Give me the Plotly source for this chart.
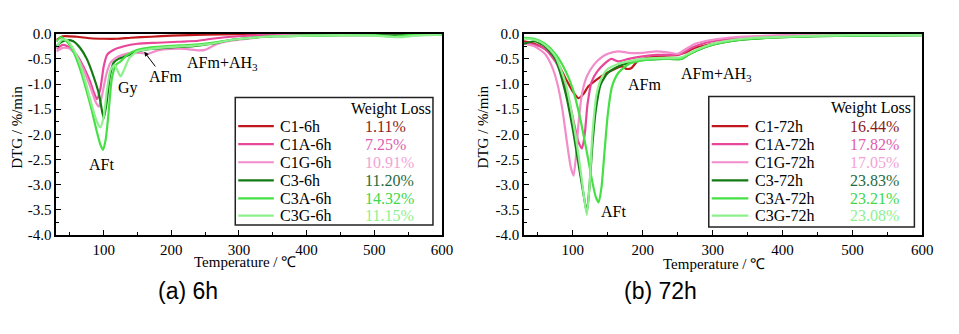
import plotly.graph_objects as go

# ---------------- data ----------------
# (a) 6h
T_C1_6h = [30, 40, 60, 80, 100, 120, 140, 170, 200, 250, 300, 350, 400, 500, 600]
V_C1_6h = [-0.12, -0.05, -0.06, -0.09, -0.10, -0.10, -0.08, -0.06, -0.04, -0.02, -0.01, 0, 0, 0, 0]

T_C1A_6h = [30, 40, 50, 60, 70, 80, 85, 90, 95, 100, 105, 115, 130, 150, 180, 210, 240, 260, 280, 300, 330, 360, 400, 500, 600]
V_C1A_6h = [-0.30, -0.22, -0.28, -0.42, -0.65, -0.95, -1.15, -1.30, -1.10, -0.65, -0.42, -0.32, -0.25, -0.20, -0.18, -0.16, -0.14, -0.10, -0.07, -0.05, -0.03, -0.02, -0.01, 0, 0]

T_C1G_6h = [30, 40, 50, 60, 70, 80, 88, 93, 98, 104, 110, 118, 128, 140, 155, 165, 180, 200, 220, 240, 250, 265, 280, 300, 330, 360, 400, 500, 600]
V_C1G_6h = [-0.35, -0.28, -0.30, -0.45, -0.70, -1.05, -1.35, -1.45, -1.20, -0.80, -0.58, -0.48, -0.42, -0.38, -0.38, -0.40, -0.33, -0.30, -0.30, -0.33, -0.32, -0.22, -0.16, -0.12, -0.07, -0.04, -0.02, -0.01, 0]

T_C3_6h = [30, 38, 45, 55, 65, 75, 85, 93, 100, 104, 109, 115, 122, 132, 150, 170, 200, 230, 260, 290, 320, 350, 400, 450, 500, 550, 600]
V_C3_6h = [-0.25, -0.16, -0.13, -0.15, -0.28, -0.50, -0.85, -1.20, -1.68, -1.40, -0.85, -0.57, -0.50, -0.45, -0.35, -0.30, -0.27, -0.25, -0.20, -0.12, -0.08, -0.05, -0.04, -0.03, -0.03, -0.03, -0.02]

T_C3A_6h = [30, 36, 45, 55, 65, 75, 82, 89, 95, 99, 103, 107, 112, 118, 125, 135, 150, 170, 200, 230, 260, 290, 320, 350, 400, 450, 500, 530, 550, 600]
V_C3A_6h = [-0.16, -0.07, -0.15, -0.35, -0.70, -1.15, -1.50, -1.90, -2.20, -2.31, -2.10, -1.60, -0.90, -0.62, -0.55, -0.42, -0.32, -0.27, -0.24, -0.22, -0.18, -0.12, -0.08, -0.05, -0.04, -0.03, -0.03, -0.06, -0.03, -0.02]

T_C3G_6h = [30, 38, 45, 55, 65, 75, 83, 90, 95, 100, 105, 110, 116, 121, 125, 130, 138, 150, 170, 200, 230, 260, 290, 320, 350, 400, 450, 500, 540, 560, 600]
V_C3G_6h = [-0.28, -0.12, -0.12, -0.30, -0.60, -1.05, -1.45, -1.75, -1.86, -1.65, -1.10, -0.72, -0.62, -0.75, -0.85, -0.72, -0.48, -0.35, -0.30, -0.26, -0.24, -0.20, -0.12, -0.08, -0.05, -0.04, -0.03, -0.04, -0.07, -0.04, -0.02]

# (b) 72h
T_C1_72h = [30, 45, 60, 75, 90, 100, 108, 115, 122, 135, 146, 160, 170, 177, 184, 192, 200, 220, 250, 260, 275, 300, 330, 360, 400, 450, 500, 600]
V_C1_72h = [-0.15, -0.20, -0.30, -0.50, -0.90, -1.15, -1.28, -1.20, -1.05, -0.90, -0.80, -0.70, -0.65, -0.70, -0.68, -0.55, -0.50, -0.45, -0.42, -0.38, -0.28, -0.20, -0.13, -0.09, -0.06, -0.03, -0.02, -0.01]

T_C1A_72h = [30, 45, 60, 75, 85, 95, 102, 108, 113, 117, 121, 127, 135, 145, 155, 165, 180, 200, 220, 245, 255, 270, 290, 320, 350, 400, 450, 500, 600]
V_C1A_72h = [-0.18, -0.22, -0.30, -0.55, -0.85, -1.35, -1.80, -2.15, -2.28, -2.00, -1.40, -0.95, -0.75, -0.60, -0.50, -0.55, -0.50, -0.45, -0.42, -0.42, -0.40, -0.28, -0.18, -0.11, -0.07, -0.04, -0.02, -0.01, 0]

T_C1G_72h = [30, 45, 60, 70, 78, 85, 92, 97, 101, 104, 108, 113, 120, 130, 140, 150, 165, 180, 200, 220, 240, 250, 260, 275, 300, 330, 360, 400, 500, 600]
V_C1G_72h = [-0.20, -0.25, -0.40, -0.65, -1.00, -1.50, -2.20, -2.65, -2.82, -2.50, -1.80, -1.20, -0.85, -0.62, -0.48, -0.40, -0.35, -0.38, -0.38, -0.35, -0.38, -0.40, -0.32, -0.20, -0.12, -0.07, -0.05, -0.03, -0.01, 0]

T_C3_72h = [30, 45, 60, 75, 90, 100, 110, 116, 120, 124, 128, 133, 140, 150, 165, 180, 200, 230, 255, 265, 280, 300, 330, 360, 400, 450, 500, 600]
V_C3_72h = [-0.20, -0.15, -0.25, -0.50, -1.20, -1.90, -2.75, -3.25, -3.55, -3.00, -2.20, -1.50, -1.00, -0.78, -0.65, -0.58, -0.52, -0.50, -0.50, -0.42, -0.32, -0.22, -0.14, -0.10, -0.07, -0.05, -0.04, -0.03]

T_C3A_72h = [30, 45, 60, 75, 90, 100, 110, 120, 128, 133, 137, 141, 145, 150, 156, 165, 180, 200, 230, 255, 265, 280, 300, 330, 360, 400, 450, 500, 600]
V_C3A_72h = [-0.08, -0.10, -0.20, -0.40, -0.75, -1.10, -1.65, -2.35, -2.95, -3.25, -3.35, -3.05, -2.40, -1.60, -1.05, -0.78, -0.60, -0.53, -0.50, -0.50, -0.42, -0.32, -0.22, -0.14, -0.10, -0.07, -0.05, -0.04, -0.03]

T_C3G_72h = [30, 45, 60, 75, 90, 100, 110, 116, 120, 124, 128, 134, 142, 150, 165, 180, 200, 230, 255, 265, 280, 300, 330, 360, 400, 450, 500, 600]
V_C3G_72h = [-0.10, -0.12, -0.22, -0.45, -1.00, -1.70, -2.60, -3.25, -3.60, -3.00, -2.00, -1.20, -0.85, -0.70, -0.60, -0.55, -0.50, -0.48, -0.47, -0.40, -0.30, -0.20, -0.12, -0.08, -0.06, -0.04, -0.03, -0.03]

names_6h = ["C1-6h", "C1A-6h", "C1G-6h", "C3-6h", "C3A-6h", "C3G-6h"]
names_72h = ["C1-72h", "C1A-72h", "C1G-72h", "C3-72h", "C3A-72h", "C3G-72h"]
loss_6h = ["1.11%", "7.25%", "10.91%", "11.20%", "14.32%", "11.15%"]
loss_72h = ["16.44%", "17.82%", "17.05%", "23.83%", "23.21%", "23.08%"]

line_colors = ["#c0181c", "#e8479a", "#f28ccb", "#137a13", "#45e045", "#8cf08c"]
text_colors = ["#8b1a1a", "#e05cad", "#f4a3d6", "#1f6b3f", "#3fd84a", "#8ff08f"]

x_ticks = [100, 200, 300, 400, 500, 600]
y_ticks = [0.0, -0.5, -1.0, -1.5, -2.0, -2.5, -3.0, -3.5, -4.0]
y_tick_text = ["0.0", "-0.5", "-1.0", "-1.5", "-2.0", "-2.5", "-3.0", "-3.5", "-4.0"]

series_6h = [(T_C1_6h, V_C1_6h), (T_C1A_6h, V_C1A_6h), (T_C1G_6h, V_C1G_6h),
             (T_C3_6h, V_C3_6h), (T_C3A_6h, V_C3A_6h), (T_C3G_6h, V_C3G_6h)]
series_72h = [(T_C1_72h, V_C1_72h), (T_C1A_72h, V_C1A_72h), (T_C1G_72h, V_C1G_72h),
              (T_C3_72h, V_C3_72h), (T_C3A_72h, V_C3A_72h), (T_C3G_72h, V_C3G_72h)]

# ---------------- figure ----------------
W, H = 959, 334
SERIF = "Liberation Serif"

def px(x):
    return x / W

def py(y):
    return 1 - y / H

fig = go.Figure()

for i, (t, v) in enumerate(series_6h):
    fig.add_trace(go.Scatter(x=t, y=v, mode="lines", name=names_6h[i],
                             line=dict(color=line_colors[i], width=2.2, shape="spline", smoothing=0.6),
                             xaxis="x", yaxis="y", showlegend=False))
for i, (t, v) in enumerate(series_72h):
    fig.add_trace(go.Scatter(x=t, y=v, mode="lines", name=names_72h[i],
                             line=dict(color=line_colors[i], width=2.2, shape="spline", smoothing=0.6),
                             xaxis="x2", yaxis="y2", showlegend=False))

ydom = [py(238.5), py(27)]
axis_common = dict(showline=True, linecolor="black", linewidth=1.5, mirror=True,
                   ticks="inside", ticklen=5, tickwidth=1, tickcolor="black",
                   showgrid=False, zeroline=False,
                   tickfont=dict(family=SERIF, size=15, color="black"))

fig.update_layout(
    width=W, height=H,
    margin=dict(l=0, r=0, t=0, b=0),
    paper_bgcolor="white", plot_bgcolor="white",
    xaxis=dict(domain=[px(57), px(447)], range=[30, 600], tickvals=x_ticks,
               minor=dict(dtick=50, tick0=0, ticks="inside", ticklen=3, tickcolor="black"),
               anchor="y", **axis_common),
    yaxis=dict(domain=ydom, range=[-4, 0], tickvals=y_ticks, ticktext=y_tick_text,
               minor=dict(dtick=0.25, tick0=0, ticks="inside", ticklen=3, tickcolor="black"),
               anchor="x", **axis_common),
    xaxis2=dict(domain=[px(530), px(933)], range=[30, 600], tickvals=x_ticks,
                minor=dict(dtick=50, tick0=0, ticks="inside", ticklen=3, tickcolor="black"),
                anchor="y2", **axis_common),
    yaxis2=dict(domain=ydom, range=[-4, 0], tickvals=y_ticks, ticktext=y_tick_text,
                minor=dict(dtick=0.25, tick0=0, ticks="inside", ticklen=3, tickcolor="black"),
                anchor="x2", **axis_common),
)

annotations = []
shapes = []

def pap(x, y, text, size, color="black", xanchor="center", family=SERIF, angle=0):
    return dict(x=px(x), y=py(y), xref="paper", yref="paper", text=text, showarrow=False,
                xanchor=xanchor, yanchor="middle", textangle=angle,
                font=dict(family=family, size=size, color=color))

# axis titles
annotations.append(pap(248, 267, "Temperature / ℃", 15))
annotations.append(pap(722, 269, "Temperature / ℃", 15))
annotations.append(pap(17, 125, "DTG / %/min", 15, angle=-90))
annotations.append(pap(489, 125, "DTG / %/min", 15, angle=-90))

# subtitles
annotations.append(pap(190, 297, "(a) 6h", 23, family="Liberation Sans"))
annotations.append(pap(668, 297, "(b) 72h", 23, family="Liberation Sans"))

# peak labels
lab_font = dict(family=SERIF, size=16, color="black")
def dlab(x, y, text, xr, yr):
    return dict(x=x, y=y, xref=xr, yref=yr, text=text, showarrow=False,
                xanchor="center", yanchor="middle", font=lab_font)

annotations += [
    dlab(97, -2.6, "AFt", "x", "y"),
    dlab(136, -1.08, "Gy", "x", "y"),
    dlab(192, -0.86, "AFm", "x", "y"),
    dict(x=160, y=-0.36, xref="x", yref="y", ax=178, ay=-0.68, axref="x", ayref="y",
         text="", showarrow=True, arrowhead=2, arrowsize=0.9, arrowwidth=1, arrowcolor="black"),
    dlab(276, -0.6, "AFm+AH<sub>3</sub>", "x", "y"),
    dlab(158, -3.53, "AFt", "x2", "y2"),
    dlab(203, -1.0, "AFm", "x2", "y2"),
    dlab(306, -0.82, "AFm+AH<sub>3</sub>", "x2", "y2"),
]

# legends (drawn as boxes with sample lines and text)
leg_font = 16
for box, l0, l1, lx, wx, hx, names, losses in [
        ((238, 94, 438, 228), 241, 277, 281, 367, 396, names_6h, loss_6h),
        ((717, 93, 925, 230), 720, 757, 762, 858, 881, names_72h, loss_72h)]:
    shapes.append(dict(type="rect", xref="paper", yref="paper",
                       x0=px(box[0]), y0=py(box[1]), x1=px(box[2]), y1=py(box[3]),
                       line=dict(color="#222", width=1.5), fillcolor="white", layer="above"))
    annotations.append(pap(hx, box[1] + 12, "Weight Loss", leg_font))
    rows = [124, 143, 162, 181, 200, 218]
    for i in range(6):
        yy = rows[i]
        shapes.append(dict(type="line", xref="paper", yref="paper",
                           x0=px(l0), x1=px(l1), y0=py(yy), y1=py(yy),
                           line=dict(color=line_colors[i], width=2.2), layer="above"))
        annotations.append(pap(lx, yy, names[i], leg_font, xanchor="left"))
        annotations.append(pap(wx, yy, losses[i], leg_font, color=text_colors[i], xanchor="left"))

fig.update_layout(annotations=annotations, shapes=shapes)
fig.write_html("out.html")
